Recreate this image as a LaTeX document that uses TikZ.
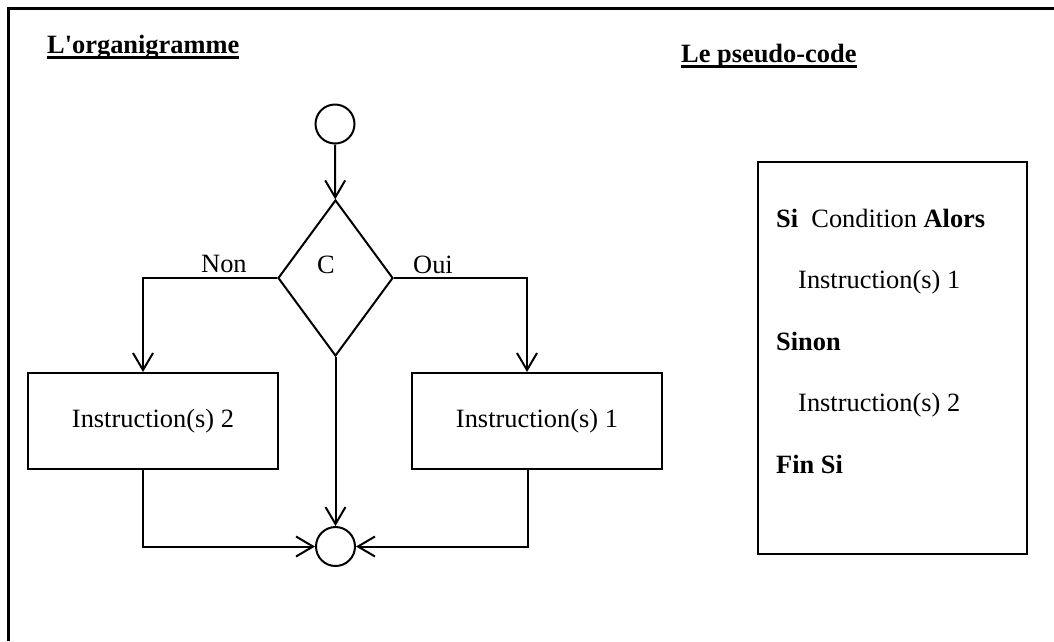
\documentclass[tikz,border=0pt]{standalone}
\usepackage{fontspec}
\setmainfont{Liberation Serif}
\usetikzlibrary{shapes.geometric,arrows.meta}
\font\rawbold="Liberation Serif/B" at 26.4pt
\begin{document}
\begin{tikzpicture}[x=1pt,y=-1pt,
  every node/.style={font=\fontsize{26.4}{30}\selectfont},
  txt/.style={inner sep=0pt, anchor=base west},
  ttl/.style={txt, font=\rawbold},
  uline/.style={line width=3pt},
  frame/.style={line width=2.6pt},
  circ/.style={circle, draw, line width=2pt, minimum size=39pt, inner sep=0pt},
  dia/.style={diamond, draw, line width=2pt, minimum width=115pt, minimum height=156pt, inner sep=0pt},
  box/.style={rectangle, draw, line width=2pt, inner sep=0pt},
  flow/.style={line width=2pt, -{Straight Barb[length=17pt,width=20pt,line width=2pt]}},
  link/.style={line width=2pt}
]
\useasboundingbox (0,0) rectangle (1054,641);

% outer frame (right and bottom edges lie outside the picture)
\draw[frame] (8.7,641) -- (8.7,8.3) -- (1054,8.3);

% titles
\node[ttl] (t1) at (47,53) {L'organigramme};
\draw[uline] ([yshift=-4.8pt]t1.base west) -- ([yshift=-4.8pt]t1.base east);
\node[ttl] (t2) at (681,62) {Le pseudo-code};
\draw[uline] ([yshift=-4.3pt]t2.base west) -- ([yshift=-4.3pt]t2.base east);

% flowchart
\node[circ] (start) at (335,124) {};
\node[dia] (dec) at (335.5,278) {};
\node[txt] (c) at (317,273) {C};
\node[box, minimum width=250pt, minimum height=96pt] (i2) at (153,421) {Instruction(s) 2};
\node[box, minimum width=250pt, minimum height=96pt] (i1) at (537,421) {Instruction(s) 1};
\node[circ] (end) at (335.5,546.5) {};

\node[txt] (non) at (201,272) {Non};
\node[txt] (oui) at (413,273) {Oui};

\draw[flow] (start) -- (dec);
\draw[flow] (dec.west) -| ([xshift=-10pt]i2.north);
\draw[flow] (dec.east) -| ([xshift=-10pt]i1.north);
\draw[flow] (dec.south) -- (end.north);
\draw[flow] ([xshift=-10pt]i2.south) |- (end.west);
\draw[flow] ([xshift=-9pt]i1.south) |- (end.east);

% pseudo-code box
\node[box, line width=2.8pt, minimum width=269pt, minimum height=392pt] (pc) at (892.5,358) {};
\node[txt] (l1) at (776,227) {\textbf{Si}\ \ Condition \textbf{Alors}};
\node[txt] (l2) at (798,288) {Instruction(s) 1};
\node[txt] (l3) at (776,350) {\textbf{Sinon}};
\node[txt] (l4) at (798,411) {Instruction(s) 2};
\node[txt] (l5) at (776,473) {\textbf{Fin Si}};
\end{tikzpicture}
\end{document}
